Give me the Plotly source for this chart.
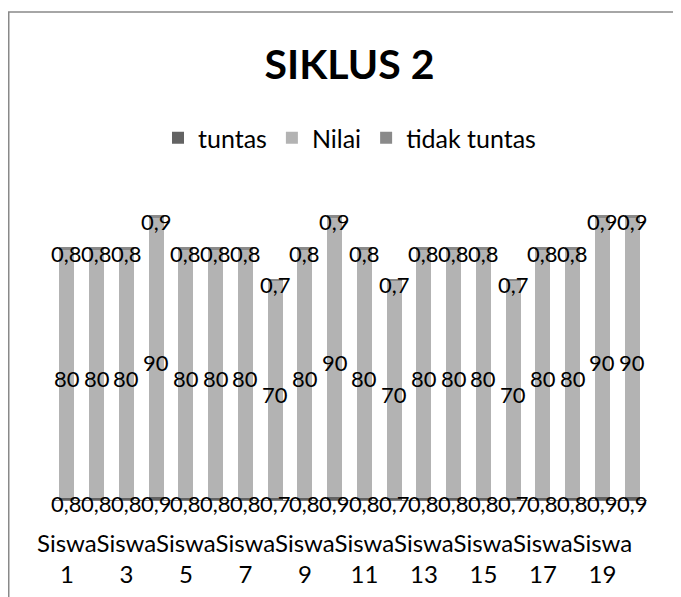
import plotly.graph_objects as go

# ---- data ----
categories = [f"Siswa {i}" for i in range(1, 21)]
nilai = [80, 80, 80, 90, 80, 80, 80, 70, 80, 90, 80, 70, 80, 80, 80, 70, 80, 80, 90, 90]
tuntas = [0.8, 0.8, 0.8, 0.9, 0.8, 0.8, 0.8, 0.7, 0.8, 0.9, 0.8, 0.7, 0.8, 0.8, 0.8, 0.7, 0.8, 0.8, 0.9, 0.9]
tidak_tuntas = [0.8, 0.8, 0.8, 0.9, 0.8, 0.8, 0.8, 0.7, 0.8, 0.9, 0.8, 0.7, 0.8, 0.8, 0.8, 0.7, 0.8, 0.8, 0.9, 0.9]
tick_vals = categories[::2]
tick_text = [c.replace(" ", "<br>") for c in tick_vals]

def fmt(v):
    return f"{v:g}".replace(".", ",")

OFF = 8  # page body margin
W, H = 681 - OFF, 597 - OFF
# target pixel positions in the window
PL, PR, PT, PB = 52, 647, 190, 500
ML, MT = PL - OFF, PT - OFF
MR = W - (PR - OFF)
MB = H - (PB - OFF)
PW = PR - PL
PH = PB - PT
FONT = "Lato"
LBL = 22

fig = go.Figure()
fig.add_trace(go.Bar(x=categories, y=tuntas, name="tuntas", marker=dict(color="#636363", line=dict(width=0))))
fig.add_trace(go.Bar(x=categories, y=nilai, name="Nilai", marker=dict(color="#b3b3b3", line=dict(width=0))))
fig.add_trace(go.Bar(x=categories, y=tidak_tuntas, name="tidak tuntas", marker=dict(color="#8a8a8a", line=dict(width=0))))

# data labels (centered on each segment)
bottom_y = [t / 2 for t in tuntas]
mid_y = [t + n / 2 for t, n in zip(tuntas, nilai)]
top_y = [t + n + d / 2 for t, n, d in zip(tuntas, nilai, tidak_tuntas)]
for ys, vals in [(bottom_y, tuntas), (mid_y, nilai), (top_y, tidak_tuntas)]:
    for c, yv, v in zip(categories, ys, vals):
        fig.add_annotation(x=c, y=yv, xref="x", yref="y", text=fmt(v), showarrow=False,
                           xanchor="center", yanchor="middle", yshift=-5,
                           font=dict(family=FONT, size=LBL, color="#000000"))

# chart border (left and top edges visible)
bx = (0.75 + OFF - PL) / PW
by = (PB - 12) / PH
fig.add_shape(type="rect", xref="paper", yref="paper", x0=bx, x1=3, y0=-3, y1=by,
              line=dict(color="#898989", width=1.5), fillcolor="rgba(0,0,0,0)", layer="below")

fig.update_layout(
    template="none",
    width=W, height=H,
    margin=dict(l=ML, r=MR, t=MT, b=MB, pad=0),
    paper_bgcolor="white", plot_bgcolor="white",
    barmode="stack", bargap=0.5,
    font=dict(family=FONT, size=LBL, color="#000000"),
    title=dict(text="<b>SIKLUS 2</b>", x=0.5, xref="paper", xanchor="center",
               y=1 - (65 - OFF) / H, yanchor="middle", font=dict(family=FONT, size=41, color="#000000")),
    legend=dict(orientation="h", x=0.5, xanchor="center", y=1 + (PT - 138) / PH, yanchor="middle",
                traceorder="normal", font=dict(family=FONT, size=25), itemwidth=30),
    xaxis=dict(tickmode="array", tickvals=tick_vals, ticktext=tick_text, showgrid=False,
               range=[-0.5, len(categories) - 0.5],
               showline=True, linecolor="#868686", linewidth=1, ticks="", tickangle=0,
               zeroline=False, automargin=False, ticklabelstandoff=22,
               tickfont=dict(family=FONT, size=24)),
    yaxis=dict(range=[0, 100], visible=False, automargin=False, showgrid=False, zeroline=False),
    showlegend=True,
)

fig.write_html("out.html")
